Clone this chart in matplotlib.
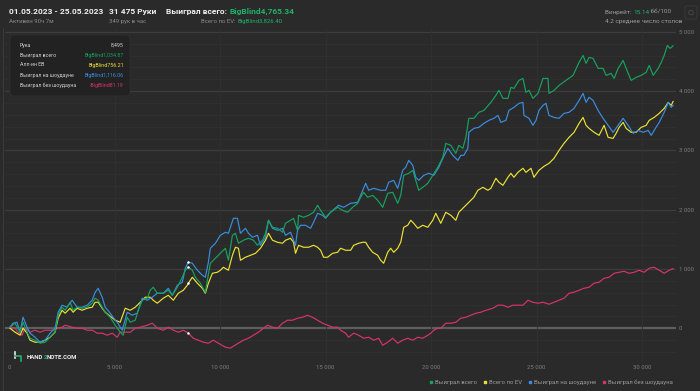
import numpy as np
import matplotlib
matplotlib.use("Agg")
import matplotlib.pyplot as plt
import matplotlib.patches as mpatches
import matplotlib.transforms as mtransforms
from matplotlib.lines import Line2D

plt.rcParams['font.family'] = ['Roboto', 'DejaVu Sans']

# (hand number, winnings in big blinds)
won_total = [(47,17),(285,84),(522,-67),(665,101),(855,-67),(997,-169),(1234,-202),(1472,-253),(1709,-236),(1947,-152),(2184,-67),(2327,219),(2516,354),(2659,303),(2896,438),(3039,303),(3229,354),(3466,337),(3704,354),(3941,422),(4083,506),(4226,472),(4416,354),(4558,270),(4796,185),(5033,51),(5270,-67),(5413,-118),(5603,185),(5745,101),(5983,135),(6125,303),(6315,472),(6552,506),(6695,641),(6837,691),(7027,590),(7312,590),(7549,641),(7739,556),(7977,691),(8214,860),(8356,978),(8495,1035),(8689,978),(8831,860),(9069,759),(9306,607),(9401,809),(9543,1096),(9781,1180),(10018,1264),(10256,1349),(10398,1146),(10588,1568),(10730,1602),(10873,1433),(11110,1484),(11348,1517),(11585,1484),(11775,1399),(12012,1484),(12155,1602),(12297,1821),(12487,1703),(12725,1686),(12962,1619),(13104,1770),(13342,1821),(13484,1855),(13674,1652),(13722,1905),(13959,1871),(14197,1905),(14434,1956),(14624,2074),(14766,1989),(15004,1871),(15241,1956),(15573,2040),(15811,1989),(16048,1956),(16286,2040),(16523,2108),(16665,2209),(16808,2293),(16998,2209),(17235,2242),(17473,2158),(17710,2040),(17947,2276),(18185,2293),(18422,2108),(18565,2242),(18707,2580),(18945,2613),(19134,2664),(19277,2495),(19419,2327),(19609,2377),(19847,2445),(20084,2580),(20321,2714),(20559,2883),(20701,3119),(20939,3085),(21176,2950),(21319,3085),(21508,3035),(21651,3220),(21793,3541),(22031,3541),(22268,3642),(22506,3675),(22838,3810),(23075,3928),(23218,4013),(23408,3878),(23645,3878),(23787,4063),(23930,4046),(24167,4181),(24357,4215),(24500,3979),(24642,4013),(24832,3878),(25069,3962),(25307,4215),(25544,4215),(25592,3962),(25829,4013),(26067,4097),(26399,4181),(26731,4266),(27016,4485),(27206,4603),(27348,4468),(27491,4569),(27681,4552),(27918,4384),(28156,4384),(28298,4266),(28535,4299),(28678,4215),(28868,4384),(29105,4518),(29248,4384),(29485,4181),(29723,4232),(29960,4266),(30198,4316),(30340,4434),(30530,4266),(30767,4384),(30910,4485),(31052,4603),(31200,4771),(31330,4721),(31475,4765)]

won_ev = [(47,0),(285,-67),(522,-118),(665,0),(855,-84),(997,-202),(1234,-236),(1472,-236),(1709,-202),(1947,-152),(2184,-67),(2327,169),(2516,303),(2659,253),(2896,337),(3039,270),(3229,337),(3466,303),(3704,337),(3941,354),(4083,438),(4226,438),(4416,337),(4558,270),(4796,202),(5033,135),(5270,101),(5508,337),(5745,303),(5983,354),(6220,438),(6457,523),(6695,523),(6837,472),(7027,422),(7312,506),(7549,556),(7787,472),(8024,590),(8262,641),(8451,725),(8495,756),(8689,860),(8926,759),(9164,674),(9306,590),(9448,759),(9638,927),(9876,944),(10018,978),(10161,1028),(10398,978),(10588,1231),(10730,1366),(10873,1349),(10968,1146),(11205,1197),(11443,1231),(11680,1264),(11917,1349),(12155,1484),(12297,1602),(12487,1484),(12725,1450),(12962,1433),(13104,1484),(13342,1517),(13484,1450),(13579,1264),(13722,1399),(13959,1366),(14197,1366),(14434,1399),(14624,1366),(14766,1315),(14909,1197),(15099,1197),(15336,1264),(15573,1281),(15716,1349),(15953,1315),(16191,1315),(16333,1399),(16570,1433),(16760,1450),(16903,1450),(17045,1366),(17235,1281),(17473,1231),(17615,1146),(17757,1096),(17947,1281),(18090,1349),(18232,1281),(18422,1349),(18565,1450),(18707,1703),(18897,1737),(19040,1821),(19182,1770),(19372,1686),(19609,1737),(19847,1703),(20084,1821),(20226,1939),(20464,1770),(20701,1956),(20939,1905),(21176,1821),(21319,1956),(21556,2040),(21793,2124),(22031,2209),(22221,2327),(22458,2377),(22696,2327),(22838,2360),(23075,2529),(23218,2462),(23408,2411),(23645,2546),(23787,2613),(23930,2546),(24120,2630),(24357,2698),(24500,2630),(24737,2698),(24880,2546),(25117,2664),(25354,2731),(25592,2782),(25829,2866),(26067,3001),(26304,3119),(26541,3220),(26779,3305),(27016,3456),(27206,3557),(27348,3423),(27491,3372),(27728,3305),(27966,3254),(28203,3423),(28393,3220),(28630,3203),(28773,3288),(28915,3389),(29105,3473),(29248,3372),(29485,3305),(29723,3305),(29960,3389),(30198,3423),(30340,3507),(30577,3557),(30815,3625),(31052,3709),(31242,3810),(31385,3760),(31475,3826)]

won_showdown = [(47,17),(190,84),(380,101),(522,-67),(665,185),(855,17),(997,-84),(1234,-152),(1472,-236),(1709,-202),(1947,-84),(2184,0),(2327,270),(2516,388),(2754,354),(2991,472),(3229,354),(3466,354),(3704,388),(3941,472),(4083,607),(4226,674),(4416,523),(4558,354),(4796,253),(5033,135),(5128,101),(5365,-34),(5603,270),(5840,219),(6077,253),(6315,506),(6552,472),(6790,523),(7027,590),(7312,590),(7549,674),(7739,556),(7977,725),(8214,776),(8356,1012),(8495,1116),(8689,1096),(8926,978),(9164,894),(9306,860),(9448,1113),(9543,1349),(9781,1433),(10018,1568),(10256,1619),(10398,1602),(10635,1855),(10825,1855),(10968,1602),(11205,1686),(11348,1602),(11538,1534),(11775,1568),(11917,1399),(12155,1534),(12297,1821),(12487,1686),(12725,1652),(12962,1686),(13104,1568),(13342,1619),(13579,1399),(13674,1652),(13817,1737),(14054,1737),(14291,1686),(14434,1787),(14624,1939),(14861,1905),(15004,1855),(15241,1956),(15621,2074),(15858,2040),(16191,2108),(16523,2124),(16665,2242),(16903,2445),(17045,2327),(17283,2360),(17615,2327),(17852,2327),(17995,2462),(18232,2495),(18422,2360),(18660,2664),(18802,2714),(18945,2832),(19134,2748),(19277,2546),(19419,2495),(19657,2580),(19894,2613),(20131,2580),(20369,2714),(20559,2866),(20796,3035),(21034,2917),(21271,2832),(21413,2917),(21556,2917),(21746,3035),(21793,3305),(22031,3372),(22268,3389),(22506,3456),(22743,3507),(22980,3541),(23170,3591),(23313,3473),(23550,3507),(23693,3675),(23930,3726),(24167,3794),(24357,3810),(24405,3591),(24642,3541),(24832,3423),(24975,3507),(25117,3675),(25307,3760),(25449,3794),(25592,3591),(25829,3557),(26067,3541),(26304,3625),(26541,3642),(26779,3709),(27016,3844),(27206,3962),(27348,3810),(27491,3895),(27681,3844),(27918,3675),(28156,3541),(28393,3423),(28630,3305),(28868,3423),(29105,3541),(29343,3423),(29580,3288),(29818,3338),(30055,3305),(30293,3338),(30435,3254),(30577,3338),(30815,3473),(31052,3642),(31242,3810),(31385,3726),(31475,3760)]

won_no_showdown = [(47,17),(285,0),(427,-67),(617,-118),(760,0),(997,-67),(1234,-34),(1472,-67),(1709,-34),(2042,-34),(2279,0),(2516,17),(2659,51),(2991,17),(3229,0),(3466,0),(3704,-34),(3941,-34),(4178,-84),(4416,-84),(4653,-118),(4891,-84),(5128,-152),(5270,-67),(5508,-67),(5745,-67),(5983,0),(6220,17),(6552,51),(6790,84),(7027,0),(7312,-34),(7549,17),(7787,-34),(8024,-67),(8262,-34),(8495,-81),(8736,-169),(8974,-202),(9211,-236),(9448,-253),(9686,-202),(9923,-253),(10256,-320),(10493,-337),(10635,-303),(10873,-253),(11110,-202),(11348,-169),(11585,-118),(11822,-67),(12060,0),(12250,51),(12487,17),(12725,0),(12962,84),(13199,135),(13437,135),(13674,169),(13912,185),(14149,219),(14386,185),(14624,135),(14861,84),(15099,51),(15336,17),(15573,17),(15716,-34),(15953,-84),(16096,-152),(16333,-84),(16570,-118),(16808,-169),(17045,-152),(17283,-202),(17520,-169),(17710,-287),(17947,-236),(18185,-169),(18422,-253),(18660,-202),(18897,-169),(19134,-202),(19372,-152),(19609,-169),(19847,-118),(19989,-84),(20131,-34),(20321,0),(20464,0),(20701,84),(20939,84),(21176,101),(21413,169),(21651,185),(21888,219),(22126,253),(22363,270),(22601,303),(22933,337),(23170,388),(23408,388),(23645,354),(23883,388),(24120,388),(24357,388),(24595,472),(24832,438),(25069,422),(25307,438),(25592,405),(25829,438),(26067,472),(26304,506),(26541,590),(26779,607),(27016,641),(27253,674),(27491,691),(27728,759),(27966,776),(28203,843),(28440,860),(28678,927),(28915,944),(29153,961),(29390,927),(29628,944),(29865,978),(30103,944),(30340,1012),(30577,1028),(30815,978),(31052,927),(31290,978),(31475,1005)]

series_names = ['Выиграл всего', 'Всего по EV', 'Выиграл на шоудауне', 'Выиграл без шоудауна']
series_colors = ['#16a35f', '#ece234', '#3a8ee0', '#d8336d']

hover_hand = 8495
hover_rows = ['Рука', 'Выиграл всего', 'Алл-ин ЕВ', 'Выиграл на шоудауне', 'Выиграл без шоудауна']
hover_values = ['8,495', 'BigBlind1,034.87', 'BigBlind756.21', 'BigBlind1,116.06', '-BigBlind81.19']
hover_points = [1034.87, 756.21, 1116.06, -81.19]

x_ticks = [0, 5000, 10000, 15000, 20000, 25000, 30000]
y_ticks = [0, 1000, 2000, 3000, 4000, 5000]

W, H = 700, 391
BG = '#2a2a2a'
fig = plt.figure(figsize=(W / 100, H / 100), dpi=100, facecolor=BG)
# pixel coordinates, y pointing down, for header / overlay pieces
px = mtransforms.Affine2D().scale(1 / W, -1 / H).translate(0, 1) + fig.transFigure

ax = fig.add_axes([5 / W, 1 - 362 / H, 671 / W, 334 / H], facecolor=BG)
ax.set_xlim(-190, 31611)
ax.set_ylim(-570, 5065)
for s in ax.spines.values():
    s.set_visible(False)

# grid
for v in range(-400, 5001, 200):
    if v == 0:
        ax.axhline(v, color='#5e5e5e', lw=1.6, zorder=1)
    elif v % 1000 == 0:
        ax.axhline(v, color='#3d3d3d', lw=0.9, zorder=1)
    else:
        ax.axhline(v, color='#303030', lw=0.6, zorder=1)
for h in x_ticks[1:]:
    ax.axvline(h, color='#303030', lw=0.6, zorder=1)

for data, col in zip([won_no_showdown, won_ev, won_showdown, won_total],
                     [series_colors[3], series_colors[1], series_colors[2], series_colors[0]]):
    arr = np.array(data, dtype=float)
    ax.plot(arr[:, 0], arr[:, 1], color=col, lw=0.85, zorder=3)

ax.plot([hover_hand] * 4, hover_points, 'o', color='white', ms=1.8, mec='none', zorder=5)

ax.yaxis.tick_right()
ax.set_xticks(x_ticks)
ax.set_xticklabels([f'{t:,}'.replace(',', ' ') for t in x_ticks])
ax.set_yticks(y_ticks)
ax.set_yticklabels([f'{t:,}'.replace(',', ' ') for t in y_ticks])
ax.tick_params(length=0, labelsize=4.3, colors='#7c7c7c', pad=2.5)
ax.tick_params(axis='y', pad=2)

# left panel border
fig.add_artist(Line2D([3, 3], [28, 391], color='#3a3a3a', lw=0.8, transform=px))


def chain(x, y, parts, size, weight='normal'):
    t = fig.text(x, y, parts[0][0], color=parts[0][1], fontsize=size,
                 fontweight=weight, transform=px, va='baseline')
    for s, c in parts[1:]:
        t = ax.annotate(s, xy=(1, 0), xycoords=t, color=c, fontsize=size,
                        fontweight=weight, va='bottom', ha='left', annotation_clip=False)
    return t


GREEN = '#1db26a'
# header
fig.text(9, 14, '01.05.2023 - 25.05.2023', color='#f0f0f0', fontsize=6, fontweight='bold', transform=px)
fig.text(9, 23, 'Активен 90ч 7м', color='#8a8a8a', fontsize=4.3, transform=px)
fig.text(109, 14, '31 475 Руки', color='#f0f0f0', fontsize=6, fontweight='bold', transform=px)
fig.text(109, 23, '349 рук в час', color='#8a8a8a', fontsize=4.3, transform=px)
chain(166, 14, [('Выиграл всего: ', '#f0f0f0'), ('BigBlind4,765.34', GREEN)], 6, 'bold')
chain(201, 23, [('Всего по EV: ', '#8a8a8a'), ('BigBlind3,826.40', GREEN)], 4.3)
chain(605, 14, [('Винрейт: ', '#9a9a9a'), ('15.14', GREEN), (' бб/100', '#9a9a9a')], 4.6)
fig.text(605, 23, '4.2 среднее число столов', color='#9a9a9a', fontsize=4.6, transform=px)
fig.add_artist(mpatches.FancyBboxPatch((685, 6), 12, 13, boxstyle='round,pad=0,rounding_size=2',
                                       fc='none', ec='#3c3c3c', lw=0.6, transform=px))
fig.add_artist(mpatches.Circle((691, 12.5), 2.3, fc='none', ec='#4a4a4a', lw=0.6, transform=px))

# hover tooltip
fig.add_artist(mpatches.FancyBboxPatch((10, 35), 120, 61, boxstyle='round,pad=0,rounding_size=4',
                                       fc='#222222', ec='#303030', lw=0.6, transform=px, zorder=6))
row_colors = ['#d0d0d0'] + series_colors
for i, (lab, val) in enumerate(zip(hover_rows, hover_values)):
    yy = 46.5 + i * 10
    fig.text(20, yy, lab, color='#d0d0d0', fontsize=3.8, transform=px, zorder=7)
    fig.text(124, yy, val, color=row_colors[i], fontsize=3.8, ha='right', transform=px, zorder=7)

# logo
fig.add_artist(Line2D([14.5, 14.5], [352, 358], color='#e8e8e8', lw=1.2, transform=px))
fig.add_artist(Line2D([14.5, 21, 21], [356, 356, 361], color='#1db26a', lw=1.2, transform=px))
chain(27, 359, [('HAND', '#f0f0f0'), ('2', GREEN), ('NOTE.COM', '#f0f0f0')], 4.3, 'bold')

# legend
handles = [Line2D([], [], marker='s', ls='none', color=c, ms=1.6) for c in series_colors]
fig.legend(handles, series_names, loc='center right', bbox_to_anchor=(676 / W, 1 - 382 / H),
           ncol=4, frameon=False, fontsize=4.3, labelcolor='#9a9a9a', handletextpad=0.4,
           columnspacing=1.0, handlelength=0.6, borderpad=0)

fig.savefig('out.png', dpi=100, facecolor=BG)
